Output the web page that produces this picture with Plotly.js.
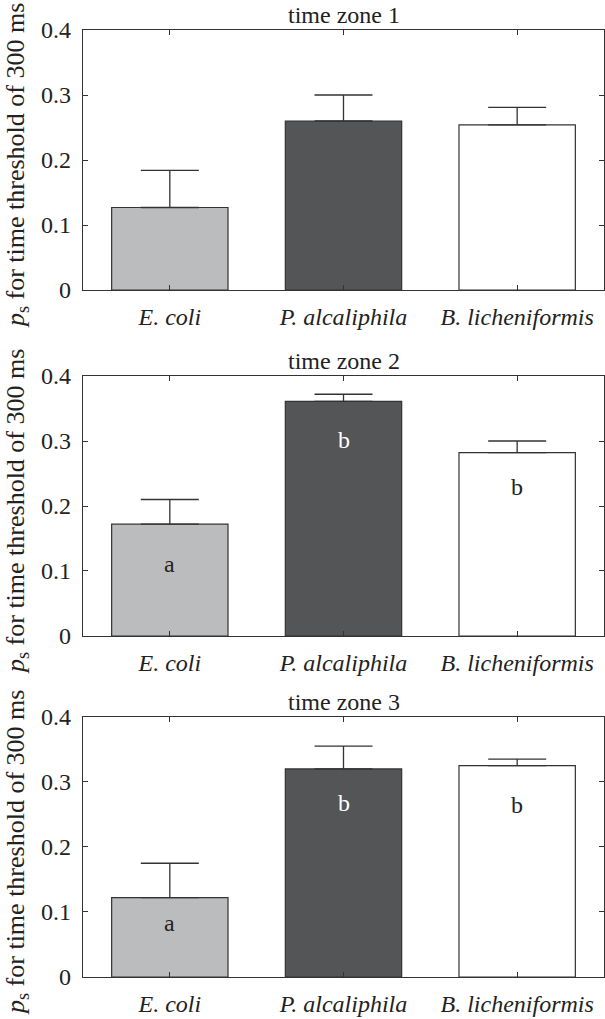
<!DOCTYPE html>
<html>
<head>
<meta charset="utf-8">
<script src="https://cdn.plot.ly/plotly-3.0.1.min.js"></script>
<style>html,body{margin:0;padding:0;background:#fff;}#chart{width:605px;height:1019px;}</style>
</head>
<body>
<div id="chart"></div>
<script>
const categories = ["E. coli", "P. alcaliphila", "B. licheniformis"];
const zoneTitles = ["time zone 1", "time zone 2", "time zone 3"];
const yTitle = "<i>p</i><sub>s</sub> for time threshold of 300 ms";
const zone1Mean = [0.127, 0.260, 0.254];
const zone1Upper = [0.184, 0.300, 0.281];
const zone2Mean = [0.172, 0.361, 0.282];
const zone2Upper = [0.210, 0.372, 0.300];
const zone3Mean = [0.122, 0.320, 0.325];
const zone3Upper = [0.175, 0.355, 0.335];
const zone2Letters = ["a", "b", "b"];
const zone2LetterY = [0.110, 0.301, 0.230];
const zone3Letters = ["a", "b", "b"];
const zone3LetterY = [0.083, 0.268, 0.265];
const barColors = ["#bbbcbe", "#545557", "#ffffff"];
const letterColors = ["#222222", "#ffffff", "#222222"];
const yTicks = [0, 0.1, 0.2, 0.3, 0.4];
const yTickText = ["0", "0.1", "0.2", "0.3", "0.4"];

const means = [zone1Mean, zone2Mean, zone3Mean];
const uppers = [zone1Upper, zone2Upper, zone3Upper];
const letters = [null, zone2Letters, zone3Letters];
const letterYs = [null, zone2LetterY, zone3LetterY];

const serif = "\"Liberation Serif\", \"DejaVu Serif\", serif";
const ink = "#333333";
const txt = "#222222";
const domains = [[0.7254, 1], [0.3601, 0.6346], [0, 0.2746]];

const data = [];
const layout = {
  width: 605, height: 1019,
  margin: {l: 83, r: 1, t: 30, b: 42},
  paper_bgcolor: "#ffffff", plot_bgcolor: "#ffffff",
  showlegend: false,
  font: {family: serif, color: txt},
  annotations: []
};

for (let i = 0; i < 3; i++) {
  const s = i === 0 ? "" : String(i + 1);
  data.push({
    type: "bar",
    x: categories,
    y: means[i],
    xaxis: "x" + s, yaxis: "y" + s,
    width: 0.67,
    marker: {color: barColors, line: {color: ink, width: 1.2}},
    error_y: {
      type: "data", symmetric: false,
      array: uppers[i].map((u, k) => u - means[i][k]),
      arrayminus: means[i].map(() => 0),
      color: ink, thickness: 1.3, width: 29
    },
    hoverinfo: "skip"
  });
  layout["xaxis" + s] = {
    domain: [0, 1], anchor: "y" + s,
    type: "category", categoryorder: "array", categoryarray: categories,
    range: [-0.5, 2.5],
    showline: true, linecolor: ink, linewidth: 1.2, mirror: "ticks",
    ticks: "inside", ticklen: 5, tickcolor: ink, ticklabelstandoff: 5,
    tickfont: {family: serif, size: 24, color: txt, style: "italic"},
    showgrid: false, zeroline: false
  };
  layout["yaxis" + s] = {
    domain: domains[i], anchor: "x" + s,
    range: [0, 0.4],
    tickvals: yTicks, ticktext: yTickText,
    showline: true, linecolor: ink, linewidth: 1.2, mirror: "ticks",
    ticks: "inside", ticklen: 5, tickcolor: ink, ticklabelstandoff: 6,
    tickfont: {family: serif, size: 24, color: txt},
    showgrid: false, zeroline: false
  };
  layout.annotations.push({
    text: yTitle, xref: "paper", yref: "paper",
    x: 0, xanchor: "center", xshift: -66,
    y: (domains[i][0] + domains[i][1]) / 2, yanchor: "middle", yshift: -6,
    textangle: -90, showarrow: false,
    font: {family: serif, size: 26, color: txt}
  });
  layout.annotations.push({
    text: zoneTitles[i], xref: "paper", yref: "paper",
    x: 0.5, y: domains[i][1], yanchor: "bottom", yshift: 0,
    showarrow: false, font: {family: serif, size: 24, color: txt}
  });
  if (letters[i]) {
    for (let k = 0; k < 3; k++) {
      layout.annotations.push({
        text: letters[i][k], xref: "x" + s, yref: "y" + s,
        x: categories[k], y: letterYs[i][k],
        showarrow: false, font: {family: serif, size: 24, color: letterColors[k]}
      });
    }
  }
}

Plotly.newPlot("chart", data, layout, {staticPlot: true, displayModeBar: false});
</script>
</body>
</html>
